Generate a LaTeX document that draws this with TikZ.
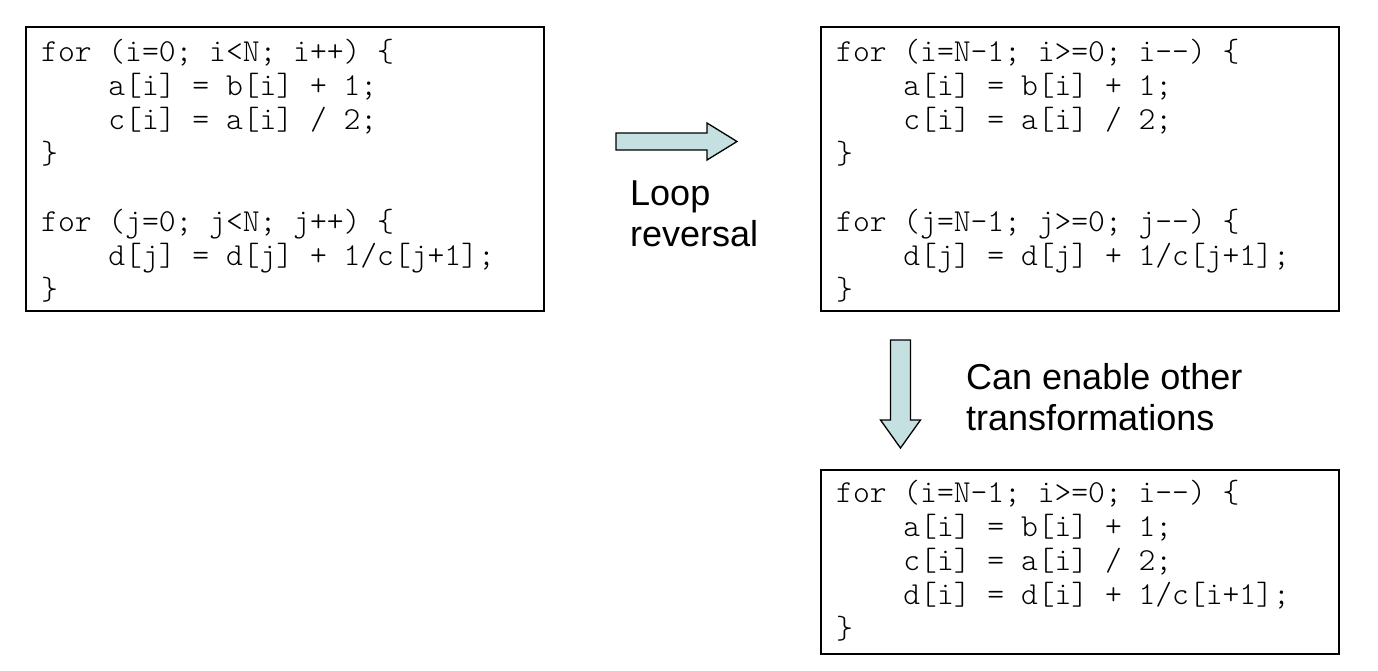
\documentclass[tikz,border=0pt]{standalone}
\usepackage{fontspec}
\setmainfont{Liberation Sans}
\setmonofont{Latin Modern Mono Light}
\usetikzlibrary{calc}
\definecolor{arrowfill}{RGB}{197,224,224}
\newcommand\codesize{\fontsize{32}{34}\selectfont}
\newcommand\lblsize{\fontsize{36}{41}\selectfont}
\newcommand\ind{\phantom{xxxx}}
\tikzset{
  codebox/.style={draw=black, line width=1.3pt, inner sep=0pt, outer sep=0pt},
  codetext/.style={anchor=base west, inner sep=0pt, font=\codesize\ttfamily},
  lbltext/.style={anchor=base west, inner sep=0pt, font=\lblsize},
  blockarrow/.style={draw=black, line width=1.3pt, fill=arrowfill, line join=miter}
}
\begin{document}
\begin{tikzpicture}[x=1pt, y=-1pt]
\path[fill=white, use as bounding box] (0,0) rectangle (1378,670);

% boxes
\node[codebox, minimum width=518, minimum height=284] (b1) at (285,169) {};
\node[codebox, minimum width=518, minimum height=284] (b2) at (1080,169) {};
\node[codebox, minimum width=518, minimum height=184] (b3) at (1080,562) {};

% code
\node[codetext] (t1) at ($(b1.north west)+(15,34)$) {\begin{tabular}[t]{@{}l@{}}
for (i=0; i<N; i++) \{\\
\ind a[i] = b[i] + 1;\\
\ind c[i] = a[i] / 2;\\
\}\\
\\
for (j=0; j<N; j++) \{\\
\ind d[j] = d[j] + 1/c[j+1];\\
\}
\end{tabular}};

\node[codetext] (t2) at ($(b2.north west)+(15,34)$) {\begin{tabular}[t]{@{}l@{}}
for (i=N-1; i>=0; i--) \{\\
\ind a[i] = b[i] + 1;\\
\ind c[i] = a[i] / 2;\\
\}\\
\\
for (j=N-1; j>=0; j--) \{\\
\ind d[j] = d[j] + 1/c[j+1];\\
\}
\end{tabular}};

\node[codetext] (t3) at ($(b3.north west)+(15,32)$) {\begin{tabular}[t]{@{}l@{}}
for (i=N-1; i>=0; i--) \{\\
\ind a[i] = b[i] + 1;\\
\ind c[i] = a[i] / 2;\\
\ind d[i] = d[i] + 1/c[i+1];\\
\}
\end{tabular}};

% block arrows
\draw[blockarrow] (616,133) -- (707,133) -- (707,123) -- (737,141.5) -- (707,160) -- (707,150) -- (616,150) -- cycle;
\draw[blockarrow] (890.5,340) -- (910.5,340) -- (910.5,420) -- (920.5,420) -- (900.5,448) -- (880.5,420) -- (890.5,420) -- cycle;

% labels
\node[lbltext] (l1) at (630,205) {\begin{tabular}[t]{@{}l@{}}Loop\\reversal\end{tabular}};
\node[lbltext] (l2) at (966,389) {\begin{tabular}[t]{@{}l@{}}Can enable other\\transformations\end{tabular}};
\end{tikzpicture}
\end{document}
